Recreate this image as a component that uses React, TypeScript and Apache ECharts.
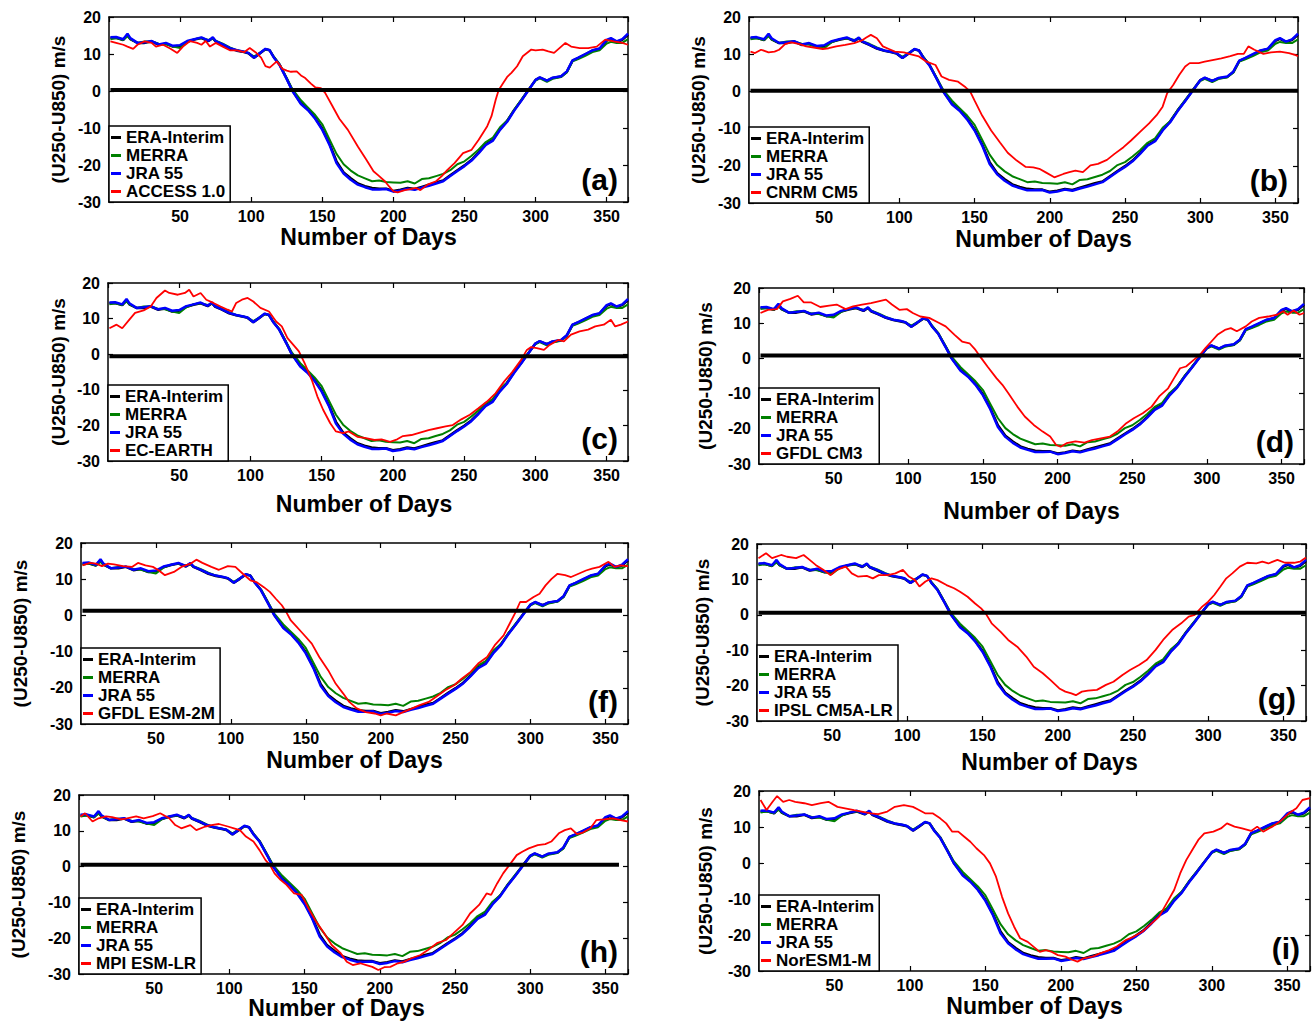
import React, { useEffect, useRef } from 'react';
import * as echarts from 'echarts';

// ---------- DATA ----------
const DAYS = [1, 5, 10, 13, 15, 20, 25, 30, 35, 40, 45, 50, 55, 60, 65, 70, 73, 75, 80, 85, 90, 95, 98, 102, 106, 110, 113, 116, 120, 125, 129, 135, 140, 145, 150, 155, 160, 165, 170, 175, 180, 185, 190, 195, 200, 205, 210, 215, 220, 225, 230, 235, 240, 245, 250, 255, 260, 265, 270, 275, 280, 285, 290, 295, 300, 303, 308, 312, 318, 322, 326, 330, 335, 340, 345, 350, 353, 357, 361, 365];

const ERA_INTERIM = [14.3, 14.4, 13.8, 15.2, 14.0, 13.0, 13.0, 13.4, 12.5, 12.8, 12.0, 12.2, 13.3, 13.9, 14.3, 13.5, 14.3, 13.4, 12.5, 11.5, 10.9, 10.5, 10.2, 9.0, 10.1, 11.3, 11.0, 9.1, 7.1, 3.3, 0.1, -3.3, -5.0, -7.3, -10.2, -14.2, -19.0, -22.0, -23.6, -25.0, -25.7, -26.2, -26.4, -26.4, -27.0, -26.7, -26.2, -26.5, -25.9, -25.3, -24.7, -24.2, -22.8, -21.4, -20.1, -18.6, -16.6, -14.4, -13.2, -10.3, -8.1, -5.1, -2.5, 0.3, 3.0, 3.6, 2.8, 3.5, 3.9, 5.2, 8.2, 8.9, 9.9, 10.9, 11.4, 13.6, 14.1, 13.3, 13.8, 15.2];

const MERRA = [14.0, 14.3, 13.8, 14.8, 14.0, 13.0, 13.4, 13.4, 12.8, 12.6, 12.0, 11.6, 13.2, 14.0, 14.3, 13.8, 14.2, 13.6, 12.8, 11.8, 11.0, 10.6, 10.3, 9.3, 10.3, 11.3, 11.0, 9.2, 7.2, 3.5, 0.5, -2.5, -4.5, -6.5, -9.0, -13.0, -17.0, -19.8, -21.5, -22.8, -23.6, -24.4, -24.2, -24.6, -24.7, -24.8, -24.4, -25.0, -23.8, -23.6, -23.0, -22.4, -21.4, -19.8, -19.0, -17.5, -15.8, -13.8, -12.6, -9.8, -8.0, -5.0, -2.3, 0.3, 2.8, 3.4, 2.5, 3.3, 3.8, 5.0, 8.0, 8.6, 9.5, 10.5, 11.0, 12.8, 13.3, 13.0, 13.0, 14.0];

const JRA_55 = [14.5, 14.6, 14.0, 15.5, 14.3, 13.0, 13.2, 13.5, 12.6, 13.0, 12.2, 12.4, 13.5, 14.0, 14.5, 13.6, 14.5, 13.5, 12.6, 11.6, 11.0, 10.6, 10.3, 9.0, 10.2, 11.4, 11.0, 9.0, 7.0, 3.2, 0.0, -3.5, -5.2, -7.5, -10.5, -14.5, -19.5, -22.3, -24.0, -25.3, -26.0, -26.6, -26.6, -26.5, -27.2, -26.9, -26.4, -26.7, -26.1, -25.6, -25.0, -24.4, -23.0, -21.6, -20.3, -18.8, -16.8, -14.6, -13.4, -10.5, -8.3, -5.3, -2.6, 0.2, 3.0, 3.7, 2.8, 3.6, 4.0, 5.3, 8.3, 9.0, 10.0, 11.0, 11.5, 13.8, 14.3, 13.4, 14.0, 15.5];

const ACCESS_10 = [[1, 13.4], [5, 13.0], [10, 12.5], [13, 12.0], [17, 11.4], [20, 12.5], [25, 13.4], [30, 13.0], [33, 12.0], [38, 12.5], [43, 11.5], [48, 10.3], [52, 12.0], [57, 13.5], [62, 13.0], [65, 12.5], [68, 13.5], [71, 12.0], [75, 13.0], [80, 12.0], [85, 11.0], [90, 11.0], [95, 10.5], [99, 11.6], [103, 10.5], [107, 9.0], [110, 6.7], [113, 6.3], [118, 8.0], [122, 6.0], [125, 5.5], [128, 5.2], [132, 5.3], [135, 4.2], [138, 3.5], [142, 2.0], [145, 1.0], [149, 0.8], [152, -0.5], [157, -4.0], [162, -7.5], [168, -10.5], [175, -15.0], [181, -18.6], [186, -21.7], [190, -23.0], [194, -24.4], [197, -25.8], [200, -27.1], [203, -27.4], [208, -26.8], [212, -26.5], [216, -26.2], [219, -26.8], [224, -25.3], [230, -24.4], [234, -23.0], [238, -21.3], [243, -19.5], [249, -16.8], [255, -15.9], [260, -13.2], [266, -9.5], [269, -6.8], [272, -2.3], [274, 0.2], [277, 2.0], [280, 3.8], [283, 4.9], [287, 6.7], [291, 9.4], [297, 11.2], [300, 11.0], [305, 11.2], [309, 10.7], [313, 10.3], [318, 12.0], [321, 13.0], [325, 12.0], [331, 11.6], [337, 11.6], [343, 12.0], [349, 13.9], [355, 13.4], [361, 13.0], [365, 12.5]];

const CNRM_CM5 = [[1, 10.7], [4, 10.3], [8, 11.2], [13, 10.5], [17, 10.7], [20, 11.2], [24, 12.7], [28, 13.2], [33, 12.8], [38, 12.1], [43, 11.8], [49, 11.4], [53, 11.6], [58, 12.1], [64, 12.5], [70, 13.0], [75, 13.7], [78, 14.5], [81, 15.2], [85, 14.3], [89, 12.1], [93, 11.4], [97, 10.7], [103, 10.5], [107, 10.0], [113, 9.4], [118, 8.0], [124, 7.1], [128, 4.0], [133, 3.1], [139, 2.6], [144, 1.1], [147, 0.0], [150, -2.5], [155, -6.5], [161, -10.5], [167, -13.8], [172, -16.5], [178, -18.6], [184, -20.3], [189, -20.4], [193, -20.8], [197, -21.7], [203, -23.1], [209, -22.2], [213, -21.7], [217, -21.3], [222, -21.7], [227, -19.9], [232, -19.5], [238, -18.4], [243, -16.8], [249, -15.0], [254, -13.2], [260, -10.9], [266, -8.6], [271, -6.4], [275, -4.1], [278, -0.5], [282, 1.7], [286, 4.4], [290, 6.7], [293, 7.6], [299, 7.6], [303, 8.0], [309, 8.5], [314, 8.9], [320, 9.5], [325, 10.1], [329, 10.1], [332, 12.1], [336, 11.2], [342, 10.1], [347, 10.5], [353, 10.7], [359, 10.3], [363, 9.8], [365, 9.5]];

const EC_EARTH = [[1, 7.3], [6, 8.3], [10, 7.3], [15, 9.7], [19, 11.6], [25, 12.3], [30, 13.4], [34, 15.8], [40, 17.9], [43, 17.2], [49, 16.7], [54, 17.2], [57, 18.1], [60, 16.2], [65, 17.2], [69, 15.3], [74, 14.4], [79, 13.4], [84, 12.5], [87, 12.0], [90, 14.4], [94, 15.3], [98, 15.8], [102, 14.8], [107, 13.0], [113, 12.0], [118, 9.2], [122, 7.8], [126, 4.5], [131, 2.2], [134, 0.8], [138, -2.5], [143, -7.2], [147, -11.9], [151, -15.6], [156, -19.4], [160, -21.7], [165, -22.2], [169, -21.7], [175, -23.2], [181, -23.6], [187, -24.1], [192, -23.9], [198, -24.6], [203, -23.9], [207, -23.0], [213, -22.7], [219, -22.0], [225, -21.3], [231, -20.8], [237, -20.3], [242, -19.9], [248, -18.3], [254, -17.0], [260, -15.2], [266, -13.3], [272, -11.0], [278, -7.7], [284, -4.9], [290, -1.6], [294, 1.2], [297, 2.0], [301, 1.7], [306, 1.2], [310, 2.6], [316, 4.0], [320, 3.6], [325, 5.5], [331, 6.4], [337, 6.9], [342, 7.8], [348, 8.3], [353, 9.7], [356, 7.8], [360, 8.3], [365, 9.2]];

const GFDL_CM3 = [[1, 12.9], [6, 13.8], [12, 14.0], [16, 16.2], [21, 16.9], [26, 17.8], [30, 15.9], [35, 15.9], [41, 14.6], [47, 15.0], [52, 15.3], [58, 14.0], [63, 14.8], [69, 15.3], [75, 15.7], [80, 16.2], [85, 16.7], [89, 15.3], [94, 13.8], [99, 14.0], [103, 12.9], [108, 11.9], [114, 11.5], [120, 10.2], [125, 9.1], [131, 6.7], [136, 4.8], [141, 4.3], [145, 2.4], [149, 0.0], [153, -2.3], [159, -5.6], [163, -7.5], [167, -9.9], [173, -13.7], [178, -16.5], [184, -18.9], [190, -20.8], [195, -22.2], [199, -24.6], [202, -25.1], [206, -24.1], [212, -23.6], [218, -23.9], [223, -23.2], [229, -22.7], [235, -22.2], [240, -20.8], [246, -18.4], [251, -17.0], [257, -15.6], [263, -13.7], [268, -10.8], [274, -8.5], [278, -5.6], [282, -2.8], [286, -2.3], [291, -0.5], [295, 0.9], [299, 2.9], [303, 4.8], [307, 6.7], [312, 8.1], [316, 8.6], [320, 7.7], [326, 9.1], [330, 10.5], [335, 11.5], [341, 11.9], [347, 12.4], [351, 13.4], [354, 12.4], [358, 13.6], [362, 12.4], [365, 12.9]];

const GFDL_ESM2M = [[1, 13.8], [6, 14.5], [10, 14.3], [14, 13.6], [18, 14.3], [22, 14.1], [28, 13.6], [34, 13.4], [38, 14.5], [43, 13.8], [48, 13.4], [52, 12.4], [56, 11.1], [62, 12.0], [67, 13.4], [73, 14.3], [77, 15.4], [81, 14.5], [87, 13.4], [92, 12.6], [98, 13.6], [103, 13.4], [108, 11.5], [113, 9.7], [117, 9.2], [122, 7.8], [126, 6.5], [130, 4.6], [134, 2.8], [137, 0.9], [140, -1.4], [142, -2.3], [148, -5.0], [154, -7.8], [159, -11.5], [165, -15.2], [170, -18.9], [175, -21.6], [179, -23.9], [184, -25.7], [190, -26.7], [196, -27.1], [200, -27.6], [204, -27.1], [210, -27.6], [215, -26.7], [221, -25.7], [226, -24.8], [232, -23.9], [237, -22.5], [243, -20.7], [249, -19.3], [254, -17.5], [260, -15.6], [265, -13.3], [271, -11.5], [276, -8.3], [282, -5.5], [286, -2.3], [290, 0.9], [293, 3.7], [297, 3.7], [302, 5.1], [306, 6.0], [310, 8.3], [314, 10.1], [318, 11.5], [323, 11.1], [327, 10.6], [332, 11.5], [337, 12.4], [341, 12.9], [346, 13.4], [352, 14.8], [356, 13.4], [360, 13.8], [365, 13.6]];

const IPSL_CM5A_LR = [[1, 16.0], [6, 17.4], [10, 16.0], [16, 16.9], [20, 16.4], [26, 16.0], [31, 16.9], [35, 15.5], [39, 14.1], [44, 12.7], [49, 11.2], [53, 12.7], [59, 13.6], [63, 11.7], [67, 10.8], [73, 11.0], [77, 10.3], [81, 11.2], [87, 11.2], [92, 11.7], [97, 12.7], [101, 10.8], [105, 9.8], [108, 8.0], [112, 9.4], [116, 10.3], [120, 9.8], [126, 8.4], [131, 7.5], [135, 6.5], [140, 5.1], [145, 3.2], [149, 1.8], [152, 0.4], [156, -2.4], [162, -4.8], [167, -7.1], [173, -9.0], [179, -11.8], [184, -14.7], [190, -16.5], [195, -18.4], [201, -20.8], [205, -21.7], [209, -22.2], [212, -22.7], [216, -21.7], [220, -21.4], [226, -21.2], [232, -19.8], [237, -18.9], [243, -17.0], [248, -15.6], [254, -14.2], [259, -12.8], [265, -9.9], [270, -7.1], [276, -4.3], [282, -2.4], [287, -0.5], [291, 0.0], [296, 2.3], [300, 3.7], [304, 5.6], [308, 7.9], [312, 10.3], [316, 11.7], [321, 13.6], [326, 14.7], [332, 14.5], [336, 15.0], [340, 14.5], [346, 15.5], [351, 14.7], [357, 14.7], [361, 15.0], [365, 16.2]];

const MPI_ESM_LR = [[1, 14.0], [4, 14.9], [9, 12.6], [13, 13.5], [18, 14.0], [22, 13.8], [28, 13.2], [32, 13.5], [38, 14.0], [43, 13.5], [49, 14.1], [54, 14.9], [60, 13.5], [64, 11.6], [68, 10.7], [74, 11.6], [78, 10.2], [84, 11.2], [88, 11.6], [93, 11.9], [99, 11.2], [103, 10.7], [107, 10.2], [111, 8.4], [116, 7.0], [120, 4.6], [124, 1.8], [127, 0.4], [130, -1.9], [134, -3.7], [138, -5.1], [143, -7.5], [148, -7.9], [152, -11.2], [157, -14.9], [163, -18.6], [168, -21.9], [174, -24.2], [178, -26.6], [182, -27.5], [187, -27.0], [191, -27.5], [195, -28.0], [199, -28.9], [203, -28.1], [207, -28.0], [212, -27.0], [216, -26.6], [221, -25.6], [227, -24.7], [232, -23.3], [238, -21.4], [244, -20.5], [249, -18.6], [255, -16.3], [260, -13.1], [266, -10.7], [271, -7.5], [274, -7.9], [278, -4.7], [282, -1.9], [287, 0.9], [291, 3.2], [295, 4.2], [299, 5.1], [305, 6.0], [310, 6.3], [314, 7.0], [319, 9.3], [323, 10.2], [327, 10.7], [331, 9.1], [335, 9.5], [340, 10.7], [344, 13.0], [349, 13.2], [355, 13.5], [360, 13.0], [365, 12.6]];

const NORESM1_M = [[1, 17.5], [5, 14.7], [9, 17.0], [12, 18.6], [16, 17.0], [20, 17.5], [24, 17.0], [30, 16.6], [35, 16.1], [41, 16.6], [46, 17.0], [52, 15.6], [57, 15.2], [63, 14.7], [68, 14.3], [74, 13.8], [79, 13.6], [85, 14.3], [90, 15.6], [96, 16.1], [102, 15.6], [106, 14.7], [110, 13.8], [115, 13.8], [120, 12.4], [124, 11.0], [128, 8.7], [132, 8.7], [136, 7.3], [140, 5.9], [144, 4.1], [149, 2.2], [153, -0.1], [157, -3.8], [161, -9.4], [165, -14.0], [169, -17.7], [173, -20.9], [178, -21.9], [182, -23.3], [186, -24.7], [190, -24.2], [194, -24.7], [198, -25.6], [203, -26.0], [207, -26.8], [211, -27.4], [215, -26.5], [221, -26.0], [226, -25.1], [232, -24.2], [237, -23.2], [243, -21.4], [248, -20.5], [254, -19.1], [259, -17.2], [265, -14.9], [270, -11.2], [275, -7.5], [279, -2.9], [283, 0.8], [287, 3.6], [291, 6.4], [295, 8.2], [301, 8.7], [306, 9.6], [310, 11.0], [315, 10.1], [320, 9.6], [326, 8.9], [330, 10.1], [334, 8.7], [340, 10.1], [345, 11.5], [351, 13.8], [356, 15.2], [360, 17.5], [365, 18.0]];

const MODEL_NAMES = ['ACCESS 1.0', 'CNRM CM5', 'EC-EARTH', 'GFDL CM3', 'GFDL ESM-2M', 'IPSL CM5A-LR', 'MPI ESM-LR', 'NorESM1-M'];
const MODEL_DATA = [ACCESS_10, CNRM_CM5, EC_EARTH, GFDL_CM3, GFDL_ESM2M, IPSL_CM5A_LR, MPI_ESM_LR, NORESM1_M];
const PANEL_LABELS = ['(a)', '(b)', '(c)', '(d)', '(f)', '(g)', '(h)', '(i)'];
const ZERO_LINE_LEVEL = [0.3, 0.2, -0.6, 0.8, 1.3, 0.6, 0.5, null];
const ZERO_LINE_START = [1, 1, 1, 1, 1, 1, 1, null];
const ZERO_LINE_END = [365, 365, 365, 363, 361, 365, 359, null];
const REANALYSIS_NAMES = ['ERA-Interim', 'MERRA', 'JRA 55'];
const X_TITLE = 'Number of Days';
const Y_TITLE = '(U250-U850) m/s';

// ---------- LAYOUT ----------
const W = 1314;
const H = 1022;
const FONT = '"Liberation Sans", Arial, Helvetica, sans-serif';
const PANELS = [
  { l: 109, t: 17, r: 628, b: 202, yGap: 41, xGap: 23, xShift: 0 },
  { l: 749, t: 17, r: 1298, b: 203, yGap: 41, xGap: 24, xShift: 20 },
  { l: 108, t: 283, r: 628, b: 461, yGap: 40, xGap: 31, xShift: -4 },
  { l: 759, t: 288, r: 1304, b: 464, yGap: 44, xGap: 35, xShift: 0 },
  { l: 81, t: 543, r: 628, b: 724, yGap: 51, xGap: 24, xShift: 0 },
  { l: 757, t: 544, r: 1306, b: 721, yGap: 45, xGap: 29, xShift: 18 },
  { l: 79, t: 795, r: 628, b: 974, yGap: 51, xGap: 20, xShift: -17 },
  { l: 759, t: 791, r: 1310, b: 971, yGap: 44, xGap: 23, xShift: 0 },
];
const COLORS = { era: '#000000', merra: '#008000', jra: '#0000ff', model: '#ff0000' };

function buildOption() {
  const grid: any[] = [];
  const xAxis: any[] = [];
  const yAxis: any[] = [];
  const series: any[] = [];
  const legend: any[] = [];
  const graphics: any[] = [];
  const axisLine = { show: true, onZero: false, lineStyle: { color: '#000', width: 1.5 } };
  const axisTick = { show: true, inside: true, length: 5, lineStyle: { color: '#000', width: 1.2 } };

  PANELS.forEach((p, i) => {
    grid.push({ left: p.l, top: p.t, width: p.r - p.l, height: p.b - p.t, show: false });
    const sh = p.xShift;
    xAxis.push({
      gridIndex: i, type: 'value', min: 0, max: 365, interval: 50, position: 'bottom',
      axisLine, axisTick, splitLine: { show: false },
      axisLabel: {
        color: '#000', fontSize: 16, fontWeight: 'bold', fontFamily: FONT, margin: 6,
        formatter: (v: number) => (v > 0 && v % 50 === 0 ? String(v) : ''),
      },
      name: X_TITLE, nameLocation: 'middle', nameGap: p.xGap,
      nameTextStyle: {
        color: '#000', fontSize: 23, fontWeight: 'bold', fontFamily: FONT,
        padding: sh >= 0 ? [0, 0, 0, 2 * sh] : [0, -2 * sh, 0, 0],
      },
    });
    xAxis.push({
      gridIndex: i, type: 'value', min: 0, max: 365, interval: 50, position: 'top',
      axisLine, axisTick, splitLine: { show: false }, axisLabel: { show: false },
    });
    yAxis.push({
      gridIndex: i, type: 'value', min: -30, max: 20, interval: 10, position: 'left',
      axisLine, axisTick, splitLine: { show: false },
      axisLabel: { color: '#000', fontSize: 16, fontWeight: 'bold', fontFamily: FONT, margin: 8 },
      name: Y_TITLE, nameLocation: 'middle', nameGap: p.yGap, nameRotate: 90,
      nameTextStyle: { color: '#000', fontSize: 19, fontWeight: 'bold', fontFamily: FONT },
    });
    yAxis.push({
      gridIndex: i, type: 'value', min: -30, max: 20, interval: 10, position: 'right',
      axisLine, axisTick, splitLine: { show: false }, axisLabel: { show: false },
    });

    const xi = 2 * i;
    const yi = 2 * i;
    const base = { type: 'line', xAxisIndex: xi, yAxisIndex: yi, symbol: 'none', silent: true, animation: false };
    series.push({
      ...base, name: REANALYSIS_NAMES[0], z: 2,
      data: DAYS.map((d, k) => [d, ERA_INTERIM[k]]),
      lineStyle: { color: COLORS.era, width: 2.5 }, itemStyle: { color: COLORS.era },
    });
    series.push({
      ...base, name: REANALYSIS_NAMES[1], z: 3,
      data: DAYS.map((d, k) => [d, MERRA[k]]),
      lineStyle: { color: COLORS.merra, width: 2 }, itemStyle: { color: COLORS.merra },
    });
    series.push({
      ...base, name: REANALYSIS_NAMES[2], z: 4,
      data: DAYS.map((d, k) => [d, JRA_55[k]]),
      lineStyle: { color: COLORS.jra, width: 2.5 }, itemStyle: { color: COLORS.jra },
    });
    series.push({
      ...base, name: MODEL_NAMES[i], z: 5,
      data: MODEL_DATA[i],
      lineStyle: { color: COLORS.model, width: 1.8 }, itemStyle: { color: COLORS.model },
    });
    const zl = ZERO_LINE_LEVEL[i];
    if (zl !== null) {
      series.push({
        ...base, name: 'zero-' + i, z: 6,
        data: [[ZERO_LINE_START[i], zl], [ZERO_LINE_END[i], zl]],
        lineStyle: { color: '#000', width: 4 }, itemStyle: { color: '#000' },
      });
    }

    legend.push({
      show: true, orient: 'vertical', left: p.l, bottom: H - p.b,
      data: [...REANALYSIS_NAMES, MODEL_NAMES[i]], selectedMode: false,
      backgroundColor: '#fff', borderColor: '#000', borderWidth: 1.5, borderRadius: 0,
      padding: [3, 5, 2, 2], itemGap: 1, itemWidth: 10, itemHeight: 3, icon: 'rect',
      textStyle: { color: '#000', fontSize: 17, fontWeight: 'bold', fontFamily: FONT, lineHeight: 16 },
      z: 10,
    });

    graphics.push({
      type: 'text', x: p.r - 10, y: p.b - 23, z: 20,
      style: {
        text: PANEL_LABELS[i], fill: '#000', font: `bold 30px ${FONT}`,
        textAlign: 'right', textVerticalAlign: 'middle', verticalAlign: 'middle',
      },
    });
  });

  return {
    animation: false,
    backgroundColor: '#fff',
    grid, xAxis, yAxis, series, legend,
    graphic: { elements: graphics },
  };
}

export default function App() {
  const ref = useRef<HTMLDivElement>(null);
  useEffect(() => {
    if (!ref.current) return;
    const chart = echarts.init(ref.current, null, { renderer: 'svg' });
    chart.setOption(buildOption() as any);
    return () => chart.dispose();
  }, []);
  return (
    <div
      ref={ref}
      style={{ position: 'absolute', left: 0, top: 0, width: W, height: H, background: '#fff' }}
    />
  );
}
